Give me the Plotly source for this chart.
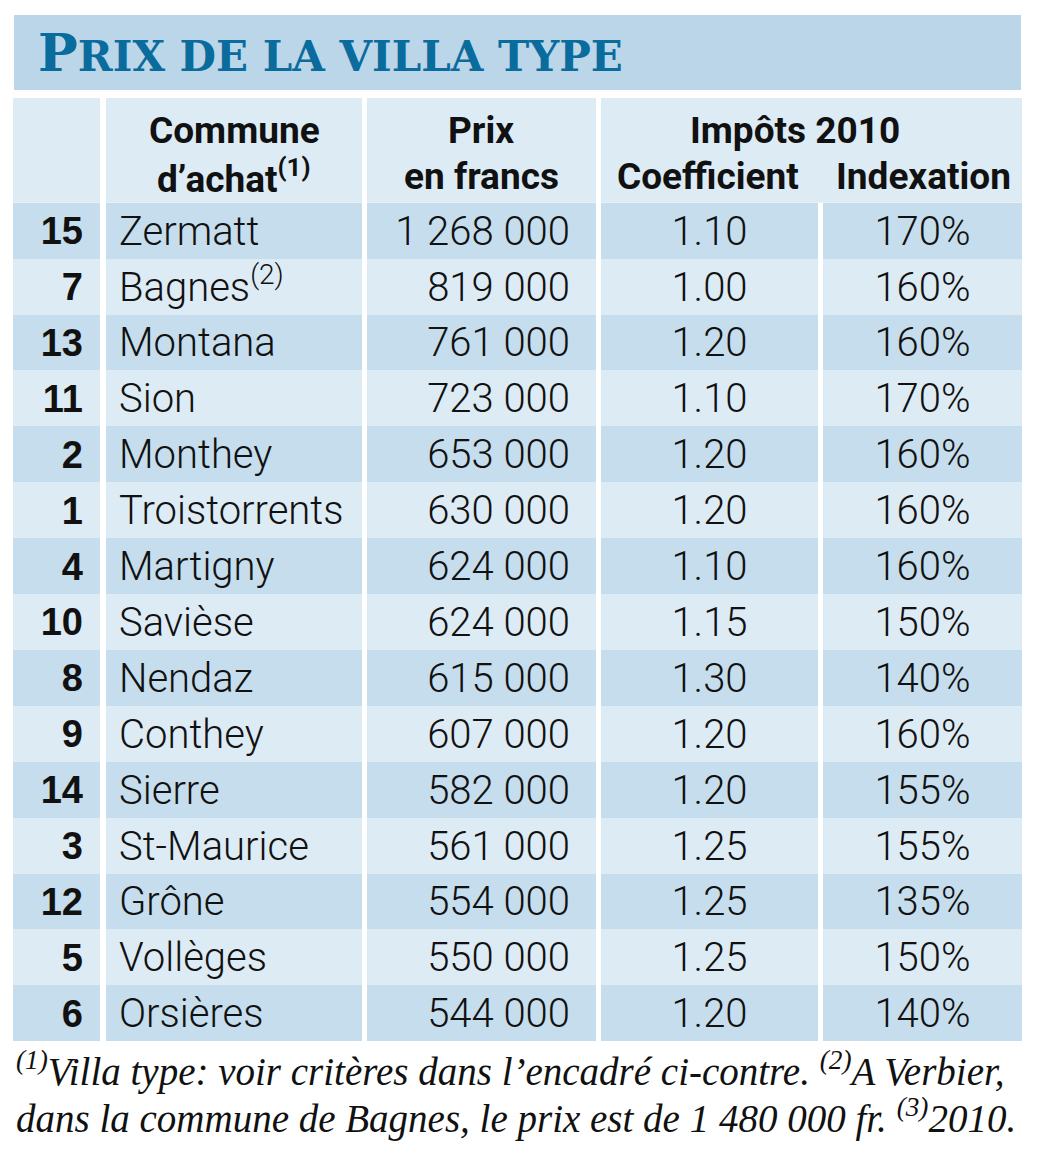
import plotly.graph_objects as go

# table data
ranks = [15, 7, 13, 11, 2, 1, 4, 10, 8, 9, 14, 3, 12, 5, 6]
communes = ["Zermatt", "Bagnes<sup>(2)</sup>", "Montana", "Sion", "Monthey",
            "Troistorrents", "Martigny", "Savièse", "Nendaz", "Conthey",
            "Sierre", "St-Maurice", "Grône", "Vollèges", "Orsières"]
prix = [1268000, 819000, 761000, 723000, 653000, 630000, 624000, 624000,
        615000, 607000, 582000, 561000, 554000, 550000, 544000]
coefficient = [1.10, 1.00, 1.20, 1.10, 1.20, 1.20, 1.10, 1.15, 1.30, 1.20,
               1.20, 1.25, 1.25, 1.25, 1.20]
indexation = [170, 160, 160, 170, 160, 160, 160, 150, 140, 160, 155, 155,
              135, 150, 140]

title = "P<span style='font-size:42px'>RIX DE LA VILLA TYPE</span>"
footnote_1 = ("<sup>(1)</sup>Villa type: voir critères dans l’encadré ci-contre. "
              "<sup>(2)</sup>A Verbier,")
footnote_2 = "dans la commune de Bagnes, le prix est de 1 480 000 fr. <sup>(3)</sup>2010."

W, H = 1045, 1150
OFF = 8  # the page body margin
DARK = "#c5ddec"
LIGHT = "#ddebf5"
BAND = "#bad6e8"
TITLE_BLUE = "#0a6b9d"

# layout in pixel units of the page
top = 202.7
row_h = 55.9
cols = [(13, 100), (106, 362), (367, 596), (601, 818), (823, 1022)]
n = len(ranks)
yc = [top + (i + 0.5) * row_h for i in range(n)]
yt = [y + 4 for y in yc]  # text sits a little low in its row
row_colors = [DARK if i % 2 == 0 else LIGHT for i in range(n)]

fig = go.Figure()

# cell backgrounds as horizontal bars
for left, right in cols:
    fig.add_trace(go.Bar(
        orientation="h", y=yc, x=[right - left] * n, base=left,
        width=row_h, marker=dict(color=row_colors, line=dict(width=0)),
        hoverinfo="skip", showlegend=False))

data_font = dict(family="Roboto, Inter, Liberation Sans, sans-serif", size=40,
                 color="#111111", weight=300)
bold_font = dict(family="Liberation Sans, Arial, sans-serif", size=38,
                 color="#111111", weight="bold")

fig.add_trace(go.Scatter(x=[83] * n, y=yt, mode="text", text=[str(r) for r in ranks],
                         textposition="middle left", textfont=bold_font,
                         hoverinfo="skip", showlegend=False))
fig.add_trace(go.Scatter(x=[119] * n, y=yt, mode="text", text=communes,
                         textposition="middle right", textfont=data_font,
                         hoverinfo="skip", showlegend=False))
fig.add_trace(go.Scatter(x=[570] * n, y=yt, mode="text",
                         text=[f"{p:,}".replace(",", " ") for p in prix],
                         textposition="middle left", textfont=data_font,
                         hoverinfo="skip", showlegend=False))
fig.add_trace(go.Scatter(x=[709.5] * n, y=yt, mode="text",
                         text=[f"{c:.2f}" for c in coefficient],
                         textposition="middle center", textfont=data_font,
                         hoverinfo="skip", showlegend=False))
fig.add_trace(go.Scatter(x=[922.5] * n, y=yt, mode="text",
                         text=[f"{v}%" for v in indexation],
                         textposition="middle center", textfont=data_font,
                         hoverinfo="skip", showlegend=False))

# title band and header cells
shapes = [dict(type="rect", xref="x", yref="y", x0=14, x1=1021, y0=15, y1=90,
               fillcolor=BAND, line=dict(width=0), layer="below")]
for left, right in [(13, 100), (106, 362), (367, 596), (601, 1022)]:
    shapes.append(dict(type="rect", xref="x", yref="y", x0=left, x1=right,
                       y0=98, y1=top, fillcolor=LIGHT, line=dict(width=0),
                       layer="below"))

head_font = dict(family="Roboto, Liberation Sans, sans-serif",
                 size=37, color="#111111", weight="bold")
headers = [
    (234, 130, "Commune"), (234, 176, "d’achat<sup>(1)</sup>"),
    (481, 130, "Prix"), (481, 176, "en francs"),
    (795, 130, "Impôts 2010"), (708, 176, "Coefficient"), (923, 176, "Indexation"),
]
annotations = [dict(x=x, y=y, xref="x", yref="y", text=t, showarrow=False,
                    xanchor="center", yanchor="middle", font=head_font)
               for x, y, t in headers]

annotations.append(dict(x=36, y=52, xref="x", yref="y", text=title, showarrow=False,
                        xanchor="left", yanchor="middle",
                        font=dict(family="DejaVu Serif, Liberation Serif, serif", size=53,
                                  color=TITLE_BLUE, weight="bold")))

foot_font = dict(family="Liberation Serif, DejaVu Serif, serif", size=39,
                 color="#111111", style="italic")
annotations.append(dict(x=14, y=1069, xref="x", yref="y", text=footnote_1, showarrow=False,
                        xanchor="left", yanchor="middle", font=foot_font))
annotations.append(dict(x=14, y=1116, xref="x", yref="y", text=footnote_2, showarrow=False,
                        xanchor="left", yanchor="middle", font=foot_font))

fig.update_layout(
    width=W, height=H, margin=dict(l=0, r=0, t=0, b=0),
    paper_bgcolor="white", plot_bgcolor="white", barmode="overlay", bargap=0,
    shapes=shapes, annotations=annotations,
    xaxis=dict(range=[OFF, W + OFF], visible=False, fixedrange=True),
    yaxis=dict(range=[H + OFF, OFF], visible=False, fixedrange=True),
)

fig.write_html("out.html")
